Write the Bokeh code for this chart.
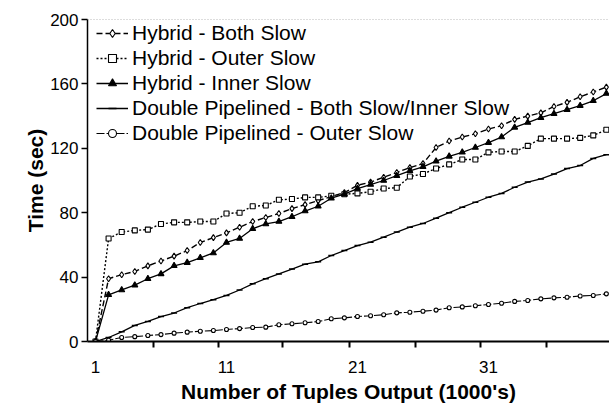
from bokeh.plotting import figure
from bokeh.models import Range1d, FixedTicker, Legend, LegendItem, Span, ColumnDataSource
from bokeh.embed import file_html
from bokeh.resources import INLINE

x_vals = list(range(1, 41))
hybrid_both = [0, 39, 41.5, 43.5, 47, 50, 53, 56.5, 61.5, 64.5, 67.5, 71, 74.5, 77, 79.5, 82.5,
               85, 87.5, 90, 92.5, 97, 99, 102, 105, 108, 110.5, 120.5, 124.5, 127, 129, 132, 134,
               138, 140, 142, 146, 148.5, 152, 155, 158]
hybrid_outer = [0, 64, 68, 69, 69.5, 73, 74, 74, 74.5, 74.5, 79.5, 80, 84, 84.5, 88, 88.5,
                89.5, 89.5, 90.5, 91.5, 92, 93, 95, 95.5, 102.5, 104, 107.5, 110, 113, 113, 117.5, 118,
                118, 121.5, 126, 126, 126, 126.5, 128, 131.5]
hybrid_inner = [0, 29, 32, 35, 39, 42, 47, 49, 52, 55, 61.5, 64, 70, 73, 74.5, 77.5,
                81, 84, 89, 91.5, 95, 97.5, 100, 103, 106, 108.5, 112, 115, 117.5, 120.5, 123.5, 127,
                133, 136, 139, 141.5, 144, 146.5, 149.5, 154]
dp_both = [0, 2.5, 6, 10, 12.5, 15.5, 17.7, 21, 23.6, 26, 28.6, 32, 35.8, 39, 42, 45,
           48, 49.5, 53.4, 56.5, 59.6, 61.7, 64.8, 68, 71, 73.3, 76.6, 80, 83.4, 86.5, 89.6, 92,
           95.8, 99, 101, 104, 107.4, 109.3, 113.7, 116]
dp_outer = [0, 0.8, 2.5, 3, 3.7, 4.3, 5.2, 5.8, 6.4, 6.8, 7.5, 8, 8.7, 8.9, 10.4, 11,
            11.6, 12.4, 14.1, 14.7, 15.5, 16, 16.6, 17.8, 18.2, 18.8, 19.5, 21, 21.5, 22.2, 23, 23.8,
            24.9, 25.5, 26.5, 27.1, 27.5, 28.3, 28.6, 29.6]

series_labels = ["Hybrid - Both Slow", "Hybrid - Outer Slow", "Hybrid - Inner Slow",
                 "Double Pipelined - Both Slow/Inner Slow", "Double Pipelined - Outer Slow"]
x_tick_labels = [1, 11, 21, 31]
x_minor_ticks = [5.4, 10.4, 15.3, 20.4, 25.4, 30.4, 35.4]
y_ticks = [0, 40, 80, 120, 160, 200]

FONT = "Liberation Sans"

p = figure(width=609, height=406, output_backend="svg", toolbar_location=None,
           x_range=Range1d(0.39, 40.24), y_range=Range1d(0, 200),
           min_border_left=87, min_border_right=0, min_border_top=19, min_border_bottom=65)
p.background_fill_color = "white"
p.border_fill_color = "white"
p.outline_line_color = None
p.xgrid.visible = False
p.ygrid.visible = False

p.add_layout(Span(location=200, dimension="width", line_color="#777777",
                  line_dash="1 2", line_width=1))

src = ColumnDataSource(dict(x=x_vals, hb=hybrid_both, ho=hybrid_outer, hi=hybrid_inner,
                            db=dp_both, do=dp_outer))

specs = [
    ("hb", "6 3", "diamond", 6, "white", 1.4),
    ("ho", "2 2", "square", 5, "white", 1.4),
    ("hi", "solid", "triangle", 6, "black", 1.3),
    ("db", "solid", "dash", 6, "black", 1.3),
    ("do", "8 2", "circle", 4, "white", 1.1),
]
items = []
for (col, dash, marker, size, fill, lw), label in zip(specs, series_labels):
    lr = p.line("x", col, source=src, line_color="black", line_width=lw, line_dash=dash)
    sr = p.scatter("x", col, source=src, marker=marker, size=size, line_color="black",
                   fill_color=fill, line_width=1.5 if marker == "dash" else 1.1)
    items.append(LegendItem(label=label, renderers=[lr, sr]))

legend = Legend(items=items, location=(9, 196))
legend.border_line_color = None
legend.background_fill_alpha = 0
legend.label_text_font = FONT
legend.label_text_font_size = "21px"
legend.label_text_color = "black"
legend.glyph_width = 32
legend.glyph_height = 20
legend.label_height = 20
legend.spacing = 1
legend.padding = 0
legend.margin = 0
legend.label_standoff = 4
p.add_layout(legend)

xa = p.xaxis[0]
xa.ticker = FixedTicker(ticks=x_tick_labels, minor_ticks=x_minor_ticks)
xa.major_tick_out = 0
xa.major_tick_in = 0
xa.minor_tick_out = 6
xa.minor_tick_in = 0
xa.minor_tick_line_color = "black"
xa.minor_tick_line_width = 2
xa.axis_line_width = 2
xa.axis_line_color = "black"
xa.major_label_text_font = FONT
xa.major_label_text_font_size = "17px"
xa.major_label_text_color = "black"
xa.major_label_standoff = 13
xa.axis_label = "Number of Tuples Output (1000's)"
xa.axis_label_text_font = FONT
xa.axis_label_text_font_size = "21px"
xa.axis_label_text_font_style = "bold"
xa.axis_label_text_color = "black"
xa.axis_label_standoff = 4

ya = p.yaxis[0]
ya.ticker = FixedTicker(ticks=y_ticks)
ya.minor_tick_out = 0
ya.minor_tick_in = 0
ya.major_tick_out = 6
ya.major_tick_in = 0
ya.major_tick_line_width = 1.5
ya.axis_line_width = 1.5
ya.axis_line_color = "black"
ya.major_label_text_font = FONT
ya.major_label_text_font_size = "17px"
ya.major_label_text_color = "black"
ya.major_label_standoff = 3
ya.axis_label = "Time (sec)"
ya.axis_label_text_font = FONT
ya.axis_label_text_font_size = "21px"
ya.axis_label_text_font_style = "bold"
ya.axis_label_text_color = "black"
ya.axis_label_standoff = 0

open("out.html", "w").write(file_html(p, INLINE))
